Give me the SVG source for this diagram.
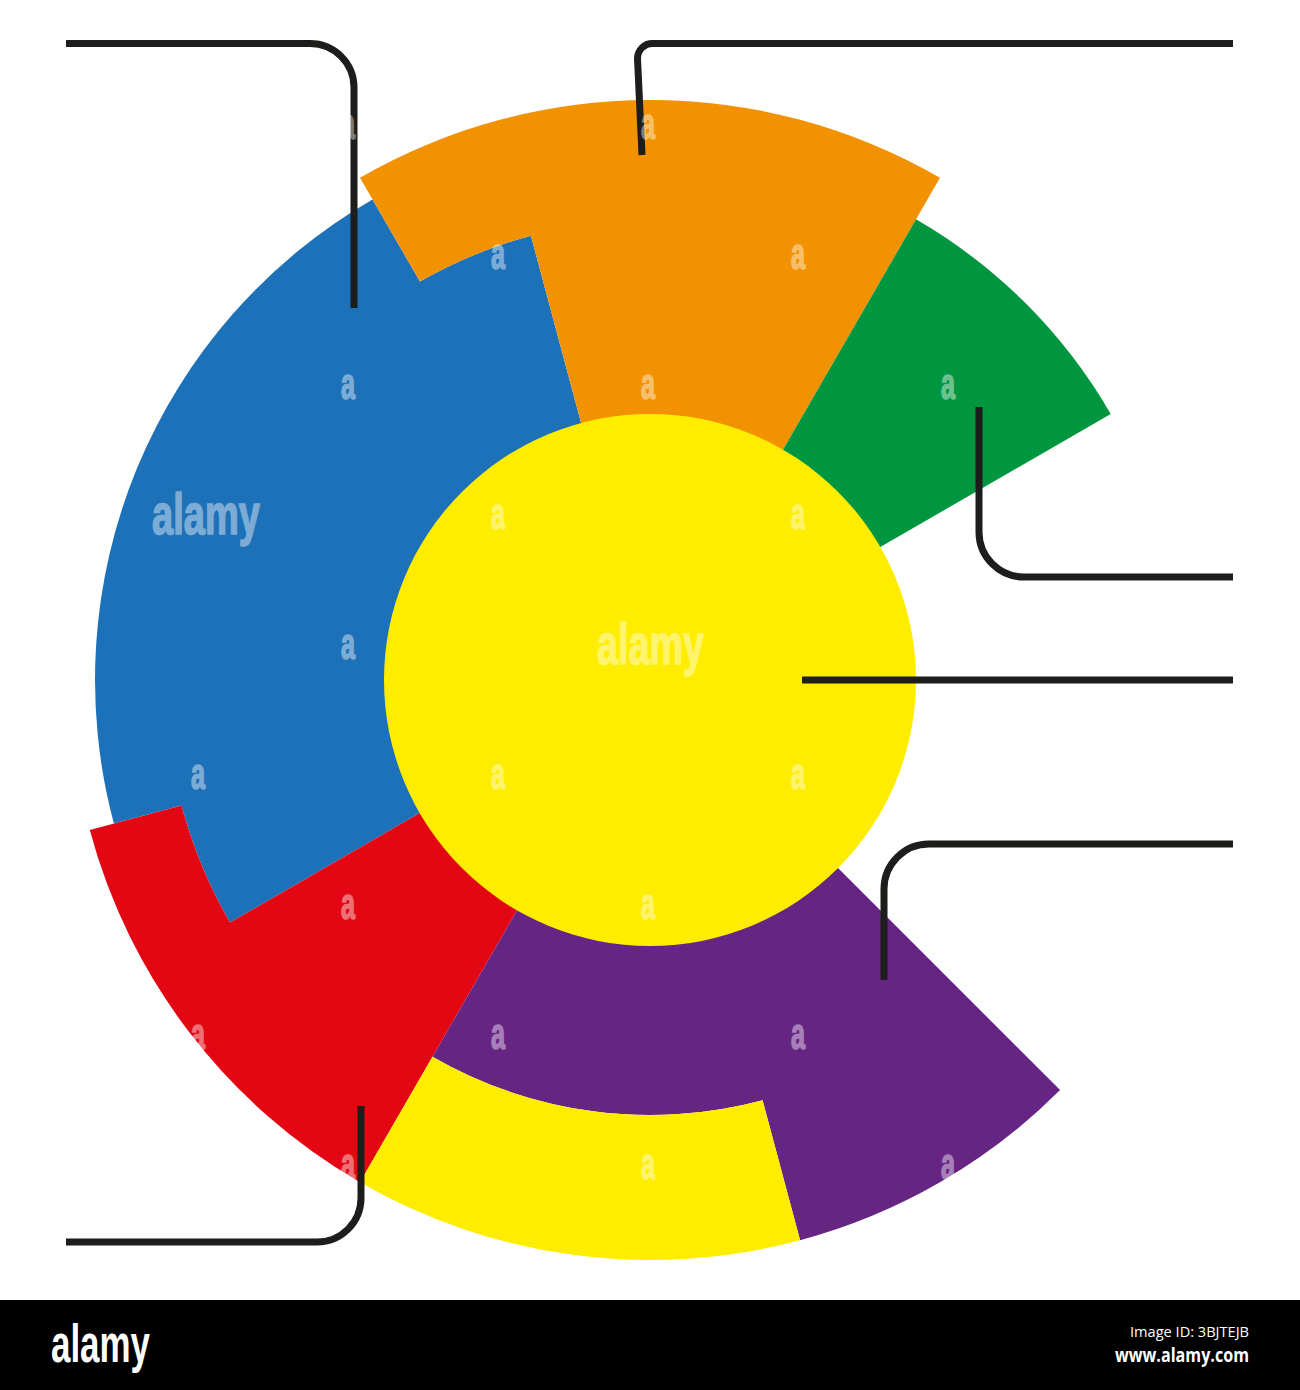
<svg xmlns="http://www.w3.org/2000/svg" width="1300" height="1390" viewBox="0 0 1300 1390">
<style>
.lead{fill:none;stroke:#1d1d1b;stroke-width:7;stroke-linecap:butt}
.wm{fill:#ffffff;stroke:#ffffff;stroke-width:1.6;stroke-linejoin:round;font-family:"Liberation Sans",Arial,sans-serif;font-weight:bold}
.wa{font-size:44px}
.wbig{font-size:57px}
.bar{fill:#ffffff}
</style>
<rect x="0" y="0" width="1300" height="1390" fill="#ffffff"/>
<g id="seg-blue"><path fill="#1d71b8" d="M650 680 L230.0 922.5 A485 485 0 0 1 181.5 805.5 L113.9 823.6 A555 555 0 0 1 372.5 199.4 L420 281.6 A460 460 0 0 1 530.9 235.7 Z"/></g>
<g id="seg-orange"><path fill="#f39200" d="M650 680 L530.9 235.7 A460 460 0 0 0 420 281.6 L360 177.7 A580 580 0 0 1 940 177.7 Z"/></g>
<g id="seg-green"><path fill="#009640" d="M650 680 L916 219.3 A532 532 0 0 1 1110.7 414 Z"/></g>
<g id="seg-red"><path fill="#e30613" d="M650 680 L360 1182.3 A580 580 0 0 1 89.8 830.1 L181.5 805.5 A485 485 0 0 0 230.0 922.5 Z"/></g>
<g id="seg-purple"><path fill="#662483" d="M650 680 L1060.1 1090.1 A580 580 0 0 1 800.1 1240.2 L762.6 1100.2 A435 435 0 0 1 432.5 1056.7 Z"/></g>
<g id="seg-yellow-ring"><path fill="#ffed00" d="M762.6 1100.2 L800.1 1240.2 A580 580 0 0 1 360 1182.3 L432.5 1056.7 A435 435 0 0 0 762.6 1100.2 Z"/></g>
<g id="center"><circle cx="650" cy="680" r="266" fill="#ffed00"/></g>
<g id="connectors">
<path class="lead" d="M66 43.5 H310 A44 44 0 0 1 354 87.5 V308"/>
<path class="lead" d="M642 155 L637.5 58.5 A15 15 0 0 1 652.5 43.5 H1233"/>
<path class="lead" d="M979 407 V532 A45 45 0 0 0 1024 577 H1233"/>
<path class="lead" d="M802 680 H1233"/>
<path class="lead" d="M884 980 V889 A45 45 0 0 1 929 844 H1233"/>
<path class="lead" d="M361 1106 V1198 A44 44 0 0 1 317 1242 H66"/>
</g>
<g id="watermark" opacity="0.42">
<text class="wm wa" x="341" y="139" textLength="14" lengthAdjust="spacingAndGlyphs">a</text>
<text class="wm wa" x="641" y="139" textLength="14" lengthAdjust="spacingAndGlyphs">a</text>
<text class="wm wa" x="491" y="269" textLength="14" lengthAdjust="spacingAndGlyphs">a</text>
<text class="wm wa" x="791" y="269" textLength="14" lengthAdjust="spacingAndGlyphs">a</text>
<text class="wm wa" x="341" y="399" textLength="14" lengthAdjust="spacingAndGlyphs">a</text>
<text class="wm wa" x="641" y="399" textLength="14" lengthAdjust="spacingAndGlyphs">a</text>
<text class="wm wa" x="941" y="399" textLength="14" lengthAdjust="spacingAndGlyphs">a</text>
<text class="wm wbig" x="152" y="534" textLength="108" lengthAdjust="spacingAndGlyphs">alamy</text>
<text class="wm wa" x="491" y="529" textLength="14" lengthAdjust="spacingAndGlyphs">a</text>
<text class="wm wa" x="791" y="529" textLength="14" lengthAdjust="spacingAndGlyphs">a</text>
<text class="wm wa" x="341" y="659" textLength="14" lengthAdjust="spacingAndGlyphs">a</text>
<text class="wm wbig" x="597" y="664" textLength="107" lengthAdjust="spacingAndGlyphs">alamy</text>
<text class="wm wa" x="191" y="789" textLength="14" lengthAdjust="spacingAndGlyphs">a</text>
<text class="wm wa" x="491" y="789" textLength="14" lengthAdjust="spacingAndGlyphs">a</text>
<text class="wm wa" x="791" y="789" textLength="14" lengthAdjust="spacingAndGlyphs">a</text>
<text class="wm wa" x="341" y="919" textLength="14" lengthAdjust="spacingAndGlyphs">a</text>
<text class="wm wa" x="641" y="919" textLength="14" lengthAdjust="spacingAndGlyphs">a</text>
<text class="wm wa" x="191" y="1049" textLength="14" lengthAdjust="spacingAndGlyphs">a</text>
<text class="wm wa" x="491" y="1049" textLength="14" lengthAdjust="spacingAndGlyphs">a</text>
<text class="wm wa" x="791" y="1049" textLength="14" lengthAdjust="spacingAndGlyphs">a</text>
<text class="wm wa" x="341" y="1179" textLength="14" lengthAdjust="spacingAndGlyphs">a</text>
<text class="wm wa" x="641" y="1179" textLength="14" lengthAdjust="spacingAndGlyphs">a</text>
<text class="wm wa" x="941" y="1179" textLength="14" lengthAdjust="spacingAndGlyphs">a</text>
</g>
<g id="footer">
<rect x="0" y="1300" width="1300" height="90" fill="#000000"/>
<text class="bar" x="51" y="1362" font-family="Liberation Sans, Arial, sans-serif" font-weight="bold" font-size="53" textLength="99" lengthAdjust="spacingAndGlyphs">alamy</text>
<text class="bar" x="1130" y="1337" font-family="Open Sans, DejaVu Sans, sans-serif" font-size="14" textLength="119" lengthAdjust="spacingAndGlyphs">Image ID: 3BJTEJB</text>
<text class="bar" x="1115" y="1362" font-family="Open Sans, DejaVu Sans, sans-serif" font-weight="bold" font-size="19" textLength="134" lengthAdjust="spacingAndGlyphs">www.alamy.com</text>
</g>
</svg>
